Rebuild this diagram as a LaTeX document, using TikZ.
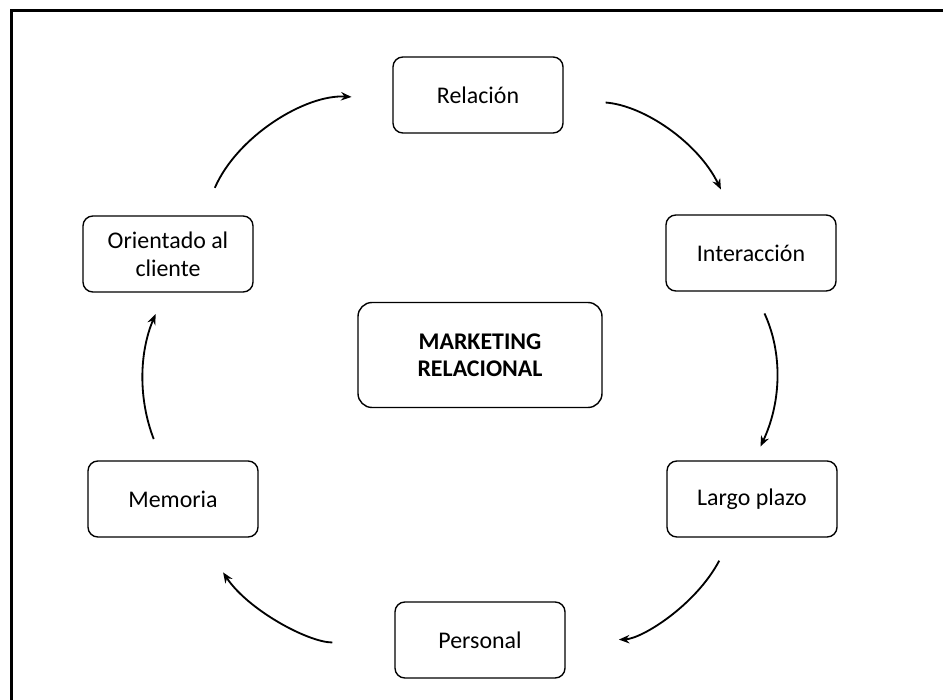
\documentclass[tikz,border=0pt]{standalone}
\usepackage{fontspec}
\setmainfont{Carlito}
\usetikzlibrary{positioning}
\usetikzlibrary{arrows.meta}

\tikzset{
  stage/.style={draw,rounded corners=7pt,line width=1pt,fill=white,
    minimum width=4.25cm,minimum height=1.9cm,align=center,
    font=\fontsize{17}{20}\selectfont},
  core/.style={stage,rounded corners=10pt,minimum width=6.1cm,
    minimum height=2.625cm,font=\fontsize{17}{19.5}\selectfont\bfseries},
  flow/.style={->,line width=1.3pt},
}

\begin{document}
\begin{tikzpicture}[>={Stealth[length=7.5pt,width=6pt]}]
  \useasboundingbox (0,0) rectangle (23.575,-17.5);
  % frame
  \draw[line width=1.5pt] (0.2875,-17.5) |- (23.575,-0.2625);

  % nodes
  \node[stage] (rel) at (11.95,-2.375) {Relación};
  \node[stage] (inter) at (18.775,-6.325) {Interacción};
  \node[stage] (largo) at (18.8,-12.475) {Largo plazo};
  \node[stage] (pers) at (12.0,-16.0) {Personal};
  \node[stage] (mem) at (4.325,-12.475) {Memoria};
  \node[stage] (orient) at (4.2,-6.35) {Orientado al\\cliente};
  \node[core] (mkt) at (12.0,-8.875) {MARKETING\\RELACIONAL};

  % arrows
  \draw[flow,shorten <=0.75cm,shorten >=1.02cm]
    (orient.48) to[bend left=35] (rel.183);
  \draw[flow,shorten <=1.05cm,shorten >=0.69cm]
    (rel.-3) to[bend left=30] (inter.115);
  \draw[flow,shorten <=0.6cm,shorten >=0.38cm]
    (inter.-85) to[bend left=25] (largo.87);
  \draw[flow,shorten <=0.65cm,shorten >=1.33cm]
    (largo.-118) to[bend left=30] (pers.-1);
  \draw[flow,shorten <=1.55cm,shorten >=1.04cm]
    (pers.182) to[bend left=28] (mem.-55);
  \draw[flow,shorten <=0.57cm,shorten >=0.58cm]
    (mem.106) to[bend left=22] (orient.-95);
\end{tikzpicture}
\end{document}
